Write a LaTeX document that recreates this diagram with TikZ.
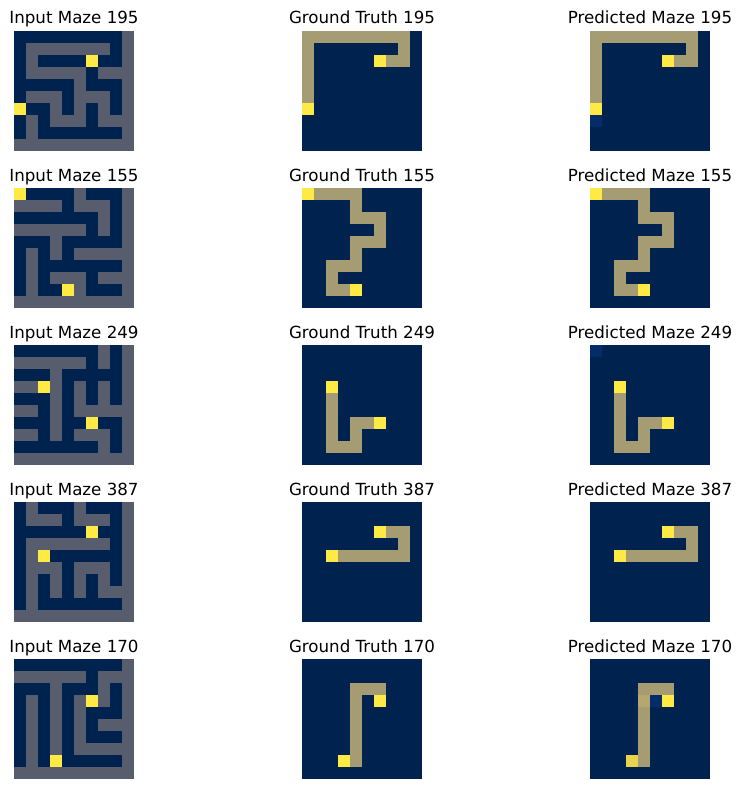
\documentclass[tikz,border=0pt]{standalone}
\usepackage{fontspec}
\setmainfont{DejaVu Sans}
\definecolor{c0}{RGB}{0,34,78}
\definecolor{c1}{RGB}{87,93,109}
\definecolor{c2}{RGB}{165,156,116}
\definecolor{c3}{RGB}{255,233,69}
\definecolor{c4}{RGB}{4,44,104}
\definecolor{c5}{RGB}{180,168,110}
\definecolor{c6}{RGB}{232,211,78}
\tikzset{paneltitle/.style={anchor=base,inner sep=0pt,font=\fontsize{16.67}{20}\selectfont}}
\newcommand{\mazepanel}[5]{%
  \node[paneltitle] (#1) at (#2+60,#3-7) {#4};
  \begin{scope}[shift={(#2,#3)}]
    \fill[c0] (0,0) rectangle (120,120);
    \foreach \row [count=\r from 0] in {#5} {
      \foreach \v [count=\k from 0] in \row {
        \ifnum\v>0 \fill[c\v] (12*\k,12*\r) rectangle ++(12,12); \fi
      }
    }
  \end{scope}
}
\begin{document}
\begin{tikzpicture}[x=1pt,y=-1pt]
\useasboundingbox[fill=white] (0,0) rectangle (741,789);

% 195
\mazepanel{in195}{14}{31}{Input Maze 195}{
{0,0,0,0,0,0,0,0,0,1},{0,1,1,1,1,1,1,1,0,1},{0,1,0,0,0,0,3,0,0,1},{0,1,1,1,1,1,0,1,1,1},{0,0,0,0,0,1,0,0,0,1},
{0,1,1,1,0,1,1,1,0,1},{3,0,0,1,0,1,0,1,0,1},{0,1,0,1,1,1,0,1,1,1},{0,1,0,0,0,0,0,0,0,1},{1,1,1,1,1,1,1,1,1,1}}
\mazepanel{gt195}{302}{31}{Ground Truth 195}{
{2,2,2,2,2,2,2,2,2,0},{2,0,0,0,0,0,0,0,2,0},{2,0,0,0,0,0,3,2,2,0},{2,0,0,0,0,0,0,0,0,0},{2,0,0,0,0,0,0,0,0,0},
{2,0,0,0,0,0,0,0,0,0},{3,0,0,0,0,0,0,0,0,0},{0,0,0,0,0,0,0,0,0,0},{0,0,0,0,0,0,0,0,0,0},{0,0,0,0,0,0,0,0,0,0}}
\mazepanel{pr195}{590}{31}{Predicted Maze 195}{
{2,2,2,2,2,2,2,2,2,0},{2,0,0,0,0,0,0,0,2,0},{2,0,0,0,0,0,3,2,2,0},{2,0,0,0,0,0,0,0,0,0},{2,0,0,0,0,0,0,0,0,0},
{2,0,0,0,0,0,0,0,0,0},{3,0,0,0,0,0,0,0,0,0},{4,0,0,0,0,0,0,0,0,0},{0,0,0,0,0,0,0,0,0,0},{0,0,0,0,0,0,0,0,0,0}}

% 155
\mazepanel{in155}{14}{188}{Input Maze 155}{
{3,0,0,0,0,1,0,0,0,1},{1,1,1,1,0,1,1,1,0,1},{0,0,0,0,0,0,0,1,0,1},{1,1,1,1,1,1,0,1,0,1},{0,0,0,1,0,0,0,0,0,1},
{0,1,0,1,0,1,1,1,1,1},{0,1,0,0,0,0,0,0,0,1},{0,1,0,1,1,1,0,1,1,1},{0,1,0,0,3,1,0,0,0,1},{1,1,1,1,1,1,1,1,1,1}}
\mazepanel{gt155}{302}{188}{Ground Truth 155}{
{3,2,2,2,2,0,0,0,0,0},{0,0,0,0,2,0,0,0,0,0},{0,0,0,0,2,2,2,0,0,0},{0,0,0,0,0,0,2,0,0,0},{0,0,0,0,2,2,2,0,0,0},
{0,0,0,0,2,0,0,0,0,0},{0,0,2,2,2,0,0,0,0,0},{0,0,2,0,0,0,0,0,0,0},{0,0,2,2,3,0,0,0,0,0},{0,0,0,0,0,0,0,0,0,0}}
\mazepanel{pr155}{590}{188}{Predicted Maze 155}{
{3,2,2,2,2,0,0,0,0,0},{0,0,0,0,2,0,0,0,0,0},{0,0,0,0,2,2,2,0,0,0},{0,0,0,0,0,0,2,0,0,0},{0,0,0,0,2,2,2,0,0,0},
{0,0,0,0,2,0,0,0,0,0},{0,0,2,2,2,0,0,0,0,0},{0,0,2,0,0,0,0,0,0,0},{0,0,2,2,3,0,0,0,0,0},{0,0,0,0,0,0,0,0,0,0}}

% 249
\mazepanel{in249}{14}{345}{Input Maze 249}{
{0,0,0,0,0,0,0,1,0,1},{1,1,1,1,1,1,0,1,0,1},{0,0,0,1,0,0,0,0,0,1},{1,1,3,1,0,1,0,1,0,1},{0,0,0,1,0,1,0,1,0,1},
{1,1,0,1,0,1,1,1,1,1},{0,0,0,1,0,0,3,0,0,1},{1,1,0,1,0,1,1,1,0,1},{0,0,0,0,0,0,0,1,0,1},{1,1,1,1,1,1,1,1,1,1}}
\mazepanel{gt249}{302}{345}{Ground Truth 249}{
{0,0,0,0,0,0,0,0,0,0},{0,0,0,0,0,0,0,0,0,0},{0,0,0,0,0,0,0,0,0,0},{0,0,3,0,0,0,0,0,0,0},{0,0,2,0,0,0,0,0,0,0},
{0,0,2,0,0,0,0,0,0,0},{0,0,2,0,2,2,3,0,0,0},{0,0,2,0,2,0,0,0,0,0},{0,0,2,2,2,0,0,0,0,0},{0,0,0,0,0,0,0,0,0,0}}
\mazepanel{pr249}{590}{345}{Predicted Maze 249}{
{4,0,0,0,0,0,0,0,0,0},{0,0,0,0,0,0,0,0,0,0},{0,0,0,0,0,0,0,0,0,0},{0,0,3,0,0,0,0,0,0,0},{0,0,2,0,0,0,0,0,0,0},
{0,0,2,0,0,0,0,0,0,0},{0,0,2,0,2,2,3,0,0,0},{0,0,2,0,2,0,0,0,0,0},{0,0,2,2,2,0,0,0,0,0},{0,0,0,0,0,0,0,0,0,0}}

% 387
\mazepanel{in387}{14}{502}{Input Maze 387}{
{0,1,0,0,0,1,0,0,0,1},{0,1,1,1,0,1,1,1,0,1},{0,0,0,0,0,0,3,0,0,1},{0,1,1,1,1,1,1,1,0,1},{0,1,3,0,0,0,0,0,0,1},
{0,1,1,1,0,1,1,1,0,1},{0,1,0,1,0,1,0,1,0,1},{0,1,0,1,0,1,0,1,1,1},{0,1,0,0,0,0,0,0,0,1},{1,1,1,1,1,1,1,1,1,1}}
\mazepanel{gt387}{302}{502}{Ground Truth 387}{
{0,0,0,0,0,0,0,0,0,0},{0,0,0,0,0,0,0,0,0,0},{0,0,0,0,0,0,3,2,2,0},{0,0,0,0,0,0,0,0,2,0},{0,0,3,2,2,2,2,2,2,0},
{0,0,0,0,0,0,0,0,0,0},{0,0,0,0,0,0,0,0,0,0},{0,0,0,0,0,0,0,0,0,0},{0,0,0,0,0,0,0,0,0,0},{0,0,0,0,0,0,0,0,0,0}}
\mazepanel{pr387}{590}{502}{Predicted Maze 387}{
{0,0,0,0,0,0,0,0,0,0},{0,0,0,0,0,0,0,0,0,0},{0,0,0,0,0,0,3,2,2,0},{0,0,0,0,0,0,0,0,2,0},{0,0,3,2,2,2,2,2,2,0},
{0,0,0,0,0,0,0,0,0,0},{0,0,0,0,0,0,0,0,0,0},{0,0,0,0,0,0,0,0,0,0},{0,0,0,0,0,0,0,0,0,0},{0,0,0,0,0,0,0,0,0,0}}

% 170
\mazepanel{in170}{14}{659}{Input Maze 170}{
{0,0,0,0,0,0,0,0,0,1},{1,1,1,1,1,1,0,1,1,1},{0,0,0,1,0,0,0,1,0,1},{0,1,0,1,0,1,3,1,0,1},{0,1,0,1,0,1,0,0,0,1},
{0,1,0,1,0,1,0,1,1,1},{0,1,0,1,0,1,0,0,0,1},{0,1,0,1,0,1,1,1,1,1},{0,1,0,3,0,0,0,0,0,1},{1,1,1,1,1,1,1,1,1,1}}
\mazepanel{gt170}{302}{659}{Ground Truth 170}{
{0,0,0,0,0,0,0,0,0,0},{0,0,0,0,0,0,0,0,0,0},{0,0,0,0,2,2,2,0,0,0},{0,0,0,0,2,0,3,0,0,0},{0,0,0,0,2,0,0,0,0,0},
{0,0,0,0,2,0,0,0,0,0},{0,0,0,0,2,0,0,0,0,0},{0,0,0,0,2,0,0,0,0,0},{0,0,0,3,2,0,0,0,0,0},{0,0,0,0,0,0,0,0,0,0}}
\mazepanel{pr170}{590}{659}{Predicted Maze 170}{
{0,0,0,0,0,0,0,0,0,0},{0,0,0,0,0,0,0,0,0,0},{0,0,0,0,2,2,2,0,0,0},{0,0,0,0,5,4,3,0,0,0},{0,0,0,0,2,0,0,0,0,0},
{0,0,0,0,2,0,0,0,0,0},{0,0,0,0,2,0,0,0,0,0},{0,0,0,0,2,0,0,0,0,0},{0,0,0,6,2,0,0,0,0,0},{0,0,0,0,0,0,0,0,0,0}}
\end{tikzpicture}
\end{document}
